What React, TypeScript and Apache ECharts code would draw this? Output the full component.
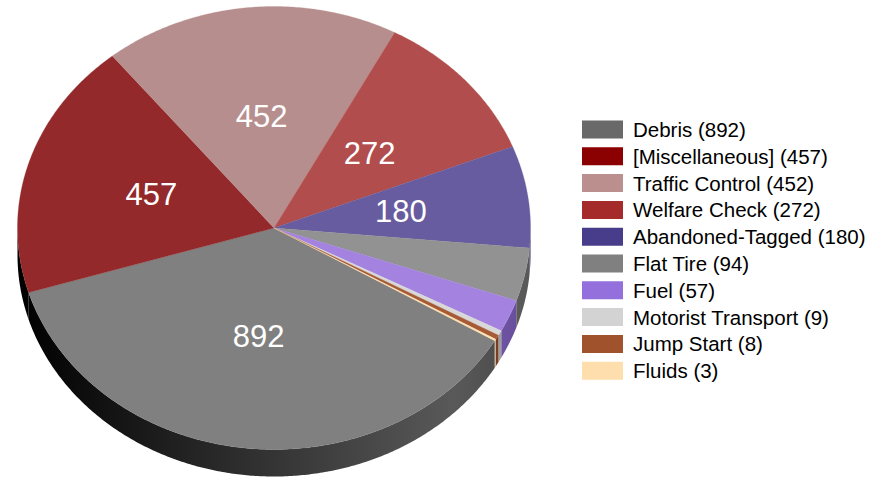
import React, { useEffect, useRef } from "react";
import * as echarts from "echarts";

const categories = [
  "Debris",
  "[Miscellaneous]",
  "Traffic Control",
  "Welfare Check",
  "Abandoned-Tagged",
  "Flat Tire",
  "Fuel",
  "Motorist Transport",
  "Jump Start",
  "Fluids",
];
const values = [892, 457, 452, 272, 180, 94, 57, 9, 8, 3];

const legendColors = ["#696969", "#8b0000", "#bc8f8f", "#a52a2a", "#483d8b", "#808080", "#9370db", "#d3d3d3", "#a0522d", "#ffdead"];
const topColors = ["#808080", "#93292a", "#b78e8e", "#b24d4d", "#675c9f", "#929292", "#a482e0", "#d8d8d8", "#a65a35", "#ffe0b0"];

const CX = 274;
const CY = 228;
const RX = 256.5;
const RY = 221.5;
const DEPTH = 27;
const START = 30.6;
const FONT = "'Liberation Sans', Arial, sans-serif";

function scaleColor(hex: string, k: number) {
  const n = parseInt(hex.slice(1), 16);
  const r = Math.round(((n >> 16) & 255) * k);
  const g = Math.round(((n >> 8) & 255) * k);
  const b = Math.round((n & 255) * k);
  return `rgb(${r},${g},${b})`;
}

function pt(deg: number, dy = 0): number[] {
  const a = (deg * Math.PI) / 180;
  return [CX + RX * Math.cos(a), CY + RY * Math.sin(a) + dy];
}

function arc(a1: number, a2: number, dy = 0): number[][] {
  const pts: number[][] = [];
  const n = Math.max(2, Math.ceil((a2 - a1) / 0.5) + 1);
  for (let k = 0; k < n; k++) pts.push(pt(a1 + ((a2 - a1) * k) / (n - 1), dy));
  return pts;
}

export default function App() {
  const ref = useRef<HTMLDivElement>(null);
  useEffect(() => {
    if (!ref.current) return;
    const chart = echarts.init(ref.current, null, { renderer: "svg" });
    const total = values.reduce((s, v) => s + v, 0);
    const cum: number[] = [];
    let acc = 0;
    values.forEach((v) => {
      cum.push(acc);
      acc += v;
    });

    const makeRender = (i: number) => (params: any, api: any) => {
      const v = api.value(1);
      const a1 = START + (360 * cum[i]) / total;
      const a2 = a1 + (360 * v) / total;
      const children: any[] = [];
      // walls (front, lower half)
      for (let k = -1; k <= 2; k++) {
        const lo = Math.max(a1, 360 * k);
        const hi = Math.min(a2, 360 * k + 180);
        if (hi > lo) {
          const top = arc(lo, hi, 0);
          const bot = arc(lo, hi, DEPTH).reverse();
          const c = legendColors[i];
          children.push({
            type: "polygon",
            shape: { points: top.concat(bot) },
            style: {
              fill: {
                type: "linear",
                x: CX - RX,
                y: 0,
                x2: CX + RX,
                y2: 0,
                global: true,
                colorStops: [
                  { offset: 0, color: scaleColor(c, 0.0) },
                  { offset: 0.85, color: scaleColor(c, 0.85) },
                  { offset: 1, color: scaleColor(c, 0.68) },
                ],
              },
              stroke: null,
            },
          });
        }
      }
      // top face
      const pts = [[CX, CY]].concat(arc(a1, a2, 0));
      children.push({
        type: "polygon",
        shape: { points: pts },
        style: { fill: topColors[i], stroke: topColors[i], lineWidth: 0.3 },
      });
      if (a2 - a1 > 20) {
        const mid = (a1 + a2) / 2;
        const m = (mid * Math.PI) / 180;
        children.push({
          type: "text",
          x: CX + RX * 0.5 * Math.cos(m),
          y: CY + RY * 0.5 * Math.sin(m) - 1,
          style: {
            text: String(v),
            fill: "#ffffff",
            fontSize: 31,
            fontFamily: FONT,
            align: "center",
            verticalAlign: "middle",
          },
          z2: 10,
        });
      }
      return { type: "group", children };
    };

    chart.setOption({
      animation: false,
      legend: {
        orient: "vertical",
        left: 577,
        top: 114,
        itemWidth: 41,
        itemHeight: 18,
        itemGap: 5.8,
        icon: "rect",
        selectedMode: false,
        data: categories,
        formatter: (name: string) => `${name} (${values[categories.indexOf(name)]})`,
        textStyle: { fontSize: 20.5, fontFamily: FONT, color: "#000000", padding: [0, 0, 0, 5] },
      },
      series: categories.map((name, i) => ({
        type: "custom",
        name,
        coordinateSystem: "none",
        silent: true,
        itemStyle: { color: legendColors[i] },
        data: [[i, values[i]]],
        renderItem: makeRender(i),
      })),
    });
    return () => chart.dispose();
  }, []);
  return (
    <div
      ref={ref}
      style={{ position: "absolute", left: 0, top: 0, width: 894, height: 479 }}
    />
  );
}
